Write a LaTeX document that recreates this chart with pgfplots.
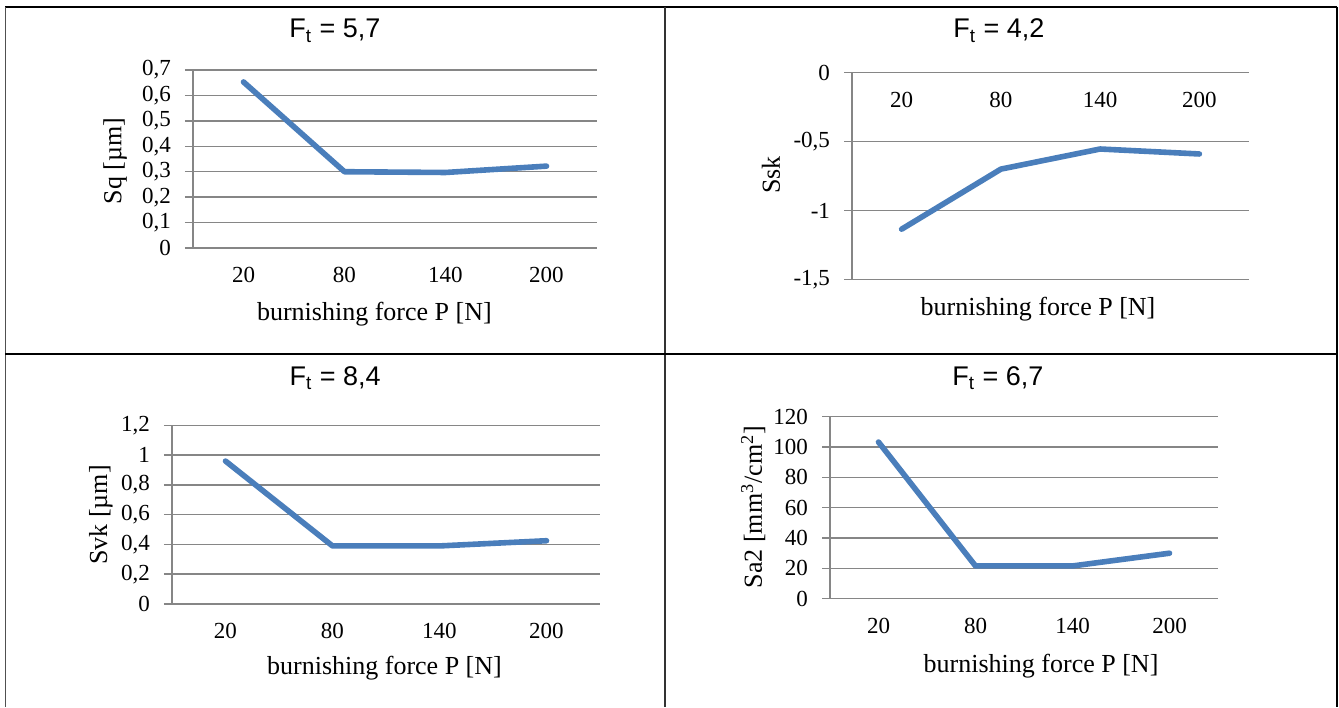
\documentclass[border=0pt]{standalone}
\usepackage{pgfplots}
\pgfplotsset{compat=1.18}
\usepackage{fontspec}
\setmainfont{Liberation Serif}
\newfontfamily\arialf{Liberation Sans}
\definecolor{lineblue}{RGB}{74,126,187}
\definecolor{gridc}{RGB}{134,134,134}
\newcommand\ticksize{\fontsize{11.5}{13}\selectfont}
\newcommand\labsize{\fontsize{13}{15}\selectfont}
\newcommand\titsize{\arialf\fontsize{13.5}{15}\selectfont}
\pgfplotsset{
  myax/.style={
    scale only axis,
    anchor=south west,
    xmin=0, xmax=4,
    xtick={0.5,1.5,2.5,3.5},
    xticklabels={20,80,140,200},
    axis y line*=left,
    ymajorgrids,
    grid style={gridc, line width=0.75pt},
    axis line style={gridc, line width=0.75pt},
    tick align=outside,
    major tick length=4pt,
    ytick style={gridc, line width=0.75pt},
    xtick style={draw=none},
    tick label style={font=\ticksize},
    yticklabel style={xshift=-3.5pt},
    xticklabel style={yshift=-2pt},
    /pgf/number format/use comma,
    /pgf/number format/assume math mode=true,
    clip=false,
    label style={font=\labsize},
    title style={font=\titsize, anchor=base, yshift=-6pt},
  },
  myline/.style={color=lineblue, line width=2.8pt, line cap=round, line join=round, mark=none},
}
\begin{document}
\begin{tikzpicture}
\useasboundingbox (0pt,0pt) rectangle (669.5pt,-353.5pt);

% Panel 1
\begin{axis}[myax,
  at={(96.5pt,-124pt)}, width=202pt, height=89pt,
  axis x line*=bottom,
  ymin=0, ymax=0.7, ytick={0,0.1,0.2,0.3,0.4,0.5,0.6,0.7},
  title={F\textsubscript{t} = 5,7},
  title style={at={(axis description cs:0.3515,1.180)}},
  xlabel={burnishing force P [N]},
  xlabel style={at={(axis description cs:0.449,-0.4045)}, anchor=base},
  ylabel={Sq [µm]},
  ylabel style={at={(axis description cs:-0.193,0.489)}, anchor=center},
]
\addplot[myline] coordinates {(0.5,0.653) (1.5,0.300) (2.5,0.297) (3.5,0.322)};
\end{axis}

% Panel 2
\begin{axis}[myax,
  at={(426pt,-139.65pt)}, width=198.5pt, height=103.3pt,
  axis x line*=middle,
  hide obscured y ticks=false,
  ymin=-1.5, ymax=0, ytick={-1.5,-1,-0.5,0},
  yticklabels={{-1,5},{-1},{-0,5},{0}},
  title={F\textsubscript{t} = 4,2},
  title style={at={(axis description cs:0.370,1.168)}},
  xlabel={burnishing force P [N]},
  xlabel style={at={(axis description cs:0.4685,-0.173)}, anchor=base},
  ylabel={Ssk},
  ylabel style={at={(axis description cs:-0.204,0.505)}, anchor=center},
]
\addplot[myline] coordinates {(0.5,-1.136) (1.5,-0.70) (2.5,-0.554) (3.5,-0.59)};
\end{axis}

% Panel 3
\begin{axis}[myax,
  at={(86pt,-302pt)}, width=214pt, height=89.35pt,
  axis x line*=bottom,
  ymin=0, ymax=1.2, ytick={0,0.2,0.4,0.6,0.8,1,1.2},
  title={F\textsubscript{t} = 8,4},
  title style={at={(axis description cs:0.381,1.2255)}},
  xlabel={burnishing force P [N]},
  xlabel style={at={(axis description cs:0.4965,-0.397)}, anchor=base},
  ylabel={Svk [µm]},
  ylabel style={at={(axis description cs:-0.166,0.498)}, anchor=center},
]
\addplot[myline] coordinates {(0.5,0.960) (1.5,0.390) (2.5,0.390) (3.5,0.425)};
\end{axis}

% Panel 4
\begin{axis}[myax,
  at={(415pt,-299.35pt)}, width=194pt, height=91pt,
  axis x line*=bottom,
  ymin=0, ymax=120, ytick={0,20,40,60,80,100,120},
  title={F\textsubscript{t} = 6,7},
  title style={at={(axis description cs:0.433,1.174)}},
  xlabel={burnishing force P [N]},
  xlabel style={at={(axis description cs:0.544,-0.408)}, anchor=base},
  ylabel={Sa2 [mm\textsuperscript{3}/cm\textsuperscript{2}]},
  ylabel style={at={(axis description cs:-0.198,0.504)}, anchor=center},
]
\addplot[myline] coordinates {(0.5,103.3) (1.5,21.6) (2.5,21.6) (3.5,30)};
\end{axis}

% table borders
\draw[black, line width=1pt] (2.5pt,-3.35pt) -- (668.5pt,-3.35pt);
\draw[gridc!60!black, line width=0.75pt] (2.75pt,-3.35pt) -- (2.75pt,-353.5pt);
\draw[black!80, line width=0.75pt] (332.6pt,-3.35pt) -- (332.6pt,-353.5pt);
\draw[black, line width=1.25pt] (2.5pt,-177pt) -- (26.5pt,-177pt);
\draw[black, line width=0.75pt] (26.5pt,-177pt) -- (309pt,-177pt);
\draw[black, line width=1.25pt] (309pt,-177pt) -- (668.5pt,-177pt);
\draw[black, line width=1.2pt] (668.35pt,-3.35pt) -- (668.35pt,-353.5pt);
\end{tikzpicture}
\end{document}
